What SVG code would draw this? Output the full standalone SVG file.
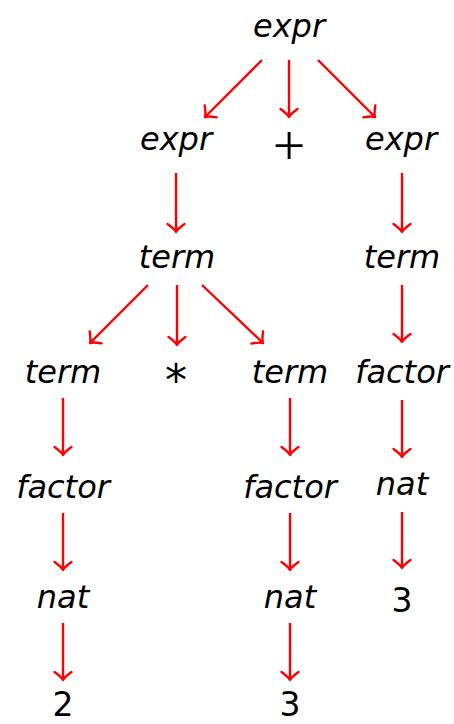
<svg xmlns="http://www.w3.org/2000/svg" width="454" height="724" viewBox="0 0 454 724">
<defs>
<style>
.n{font-family:"DejaVu Sans",sans-serif;font-style:italic;font-size:32px;fill:#000;text-anchor:middle}
.d{font-family:"DejaVu Sans",sans-serif;font-size:33px;fill:#000;text-anchor:middle}
.op{font-family:"Liberation Serif",serif;font-size:58px;fill:#000;text-anchor:middle}
.ast{font-family:"DejaVu Sans",sans-serif;font-size:44px;fill:#000;text-anchor:middle}
.c line{stroke:#ff0000;stroke-width:2.4;fill:none;marker-end:url(#ah)}
</style>
<marker id="ah" markerUnits="userSpaceOnUse" viewBox="-10 -10 12 20" refX="0" refY="0" markerWidth="12" markerHeight="20" orient="auto" overflow="visible">
<path d="M-8,-8.5 Q-3,-1.5 0,0 Q-3,1.5 -8,8.5" fill="none" stroke="#ff0000" stroke-width="2.4" stroke-linecap="round" stroke-linejoin="round"/>
</marker>
</defs>
<rect width="454" height="724" fill="#fff"/>
<g class="c" id="connectors">
<line x1="262" y1="60" x2="205" y2="117"/>
<line x1="289" y1="60" x2="289" y2="117"/>
<line x1="318" y1="60" x2="375" y2="117"/>
<line x1="176" y1="173" x2="176" y2="232"/>
<line x1="402" y1="173" x2="402" y2="232"/>
<line x1="148" y1="285" x2="90" y2="343"/>
<line x1="177" y1="285" x2="177" y2="345"/>
<line x1="202" y1="285" x2="263" y2="343"/>
<line x1="402" y1="285" x2="402" y2="342"/>
<line x1="63" y1="398" x2="63" y2="455"/>
<line x1="290" y1="398" x2="290" y2="455"/>
<line x1="402" y1="400" x2="402" y2="457"/>
<line x1="63" y1="513" x2="63" y2="570"/>
<line x1="290" y1="513" x2="290" y2="570"/>
<line x1="402" y1="512" x2="402" y2="568"/>
<line x1="63" y1="623" x2="63" y2="680"/>
<line x1="290" y1="623" x2="290" y2="680"/>
</g>
<g id="n-expr-root"><text class="n" x="289" y="37">expr</text></g>
<g id="n-expr-l"><text class="n" x="176" y="150">expr</text></g>
<g id="n-plus"><text class="op" x="289" y="165">+</text></g>
<g id="n-expr-r"><text class="n" x="401" y="150">expr</text></g>
<g id="n-term-m"><text class="n" x="177" y="268">term</text></g>
<g id="n-term-r"><text class="n" x="402" y="268">term</text></g>
<g id="n-term-ll"><text class="n" x="63" y="383">term</text></g>
<g id="n-times"><text class="ast" x="176" y="396">*</text></g>
<g id="n-term-lr"><text class="n" x="290" y="383">term</text></g>
<g id="n-factor-r"><text class="n" x="402" y="383">factor</text></g>
<g id="n-factor-ll"><text class="n" x="63" y="498">factor</text></g>
<g id="n-factor-lr"><text class="n" x="290" y="498">factor</text></g>
<g id="n-nat-r"><text class="n" x="402" y="495">nat</text></g>
<g id="n-nat-ll"><text class="n" x="63" y="608">nat</text></g>
<g id="n-nat-lr"><text class="n" x="290" y="608">nat</text></g>
<g id="n-3-r"><text class="d" x="402" y="612">3</text></g>
<g id="n-2"><text class="d" x="63" y="716">2</text></g>
<g id="n-3"><text class="d" x="290" y="716">3</text></g>
</svg>
